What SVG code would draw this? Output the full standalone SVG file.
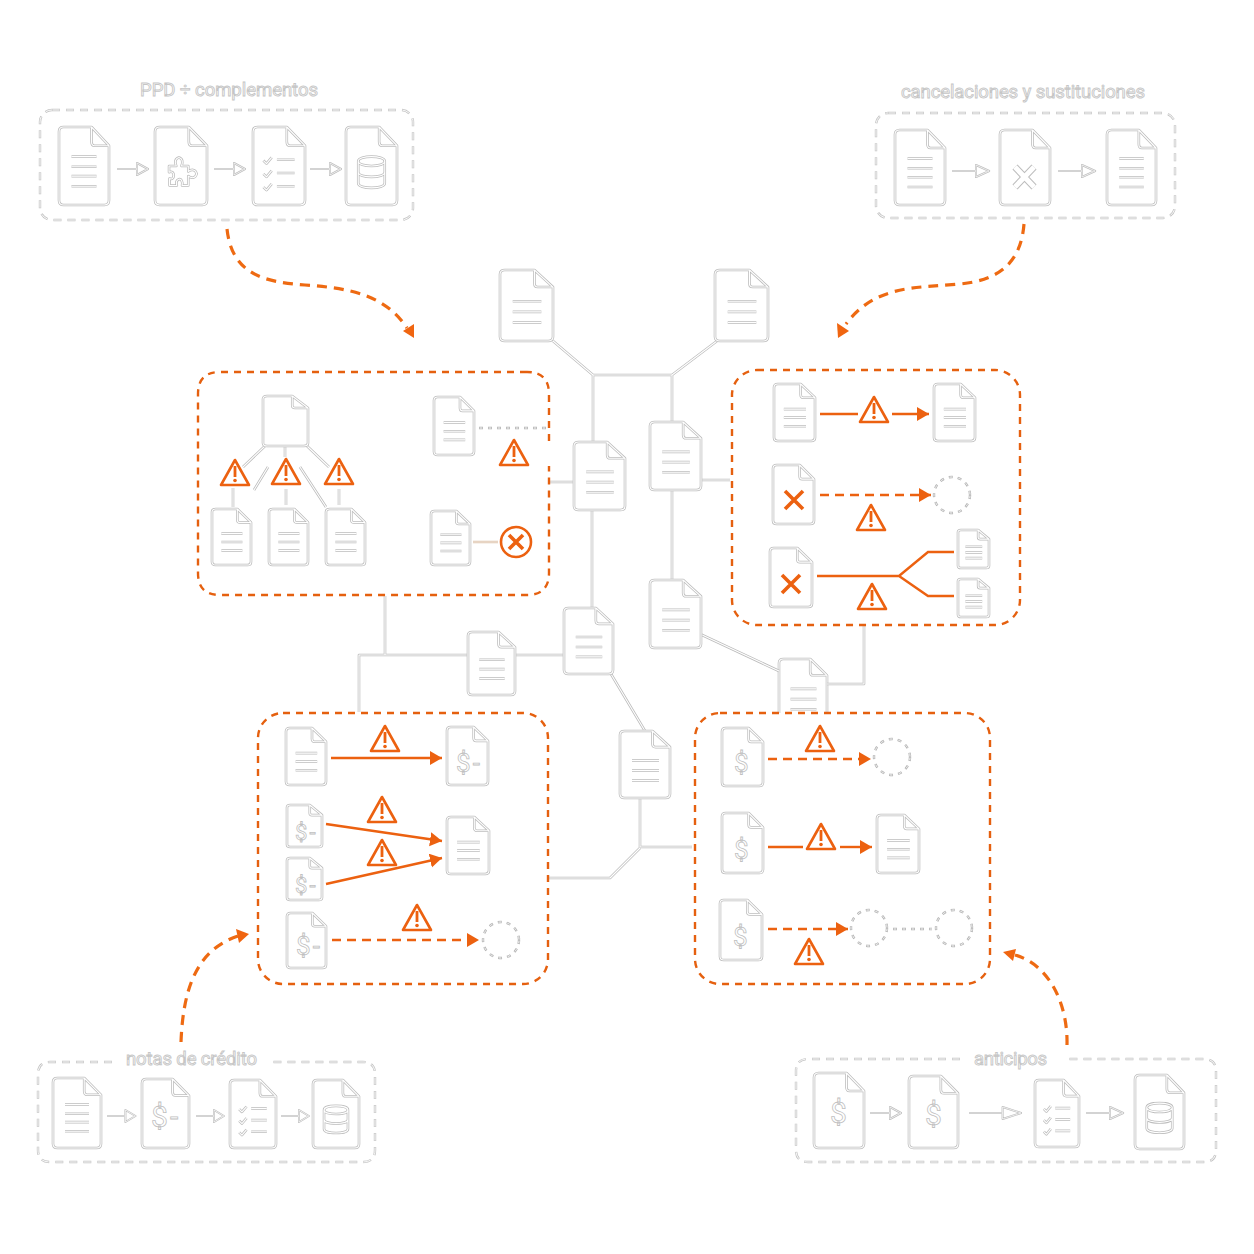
<svg xmlns="http://www.w3.org/2000/svg" width="1254" height="1254" viewBox="0 0 1254 1254">
<style>
path,line,circle,rect,polygon,ellipse{vector-effect:non-scaling-stroke}
text{font-family:"Roboto","Liberation Sans",sans-serif}
.o{fill:none;stroke:#bcbcbc;stroke-width:2.6;stroke-linejoin:round}
.i{fill:none;stroke:#fff;stroke-width:1.1;stroke-linejoin:round}
.f{fill:#fff;stroke:none}
.pg{fill:none;stroke:#c4c4c4;stroke-width:2.4;stroke-dasharray:8 6}
.pi{fill:none;stroke:#fff;stroke-width:.9;stroke-dasharray:7 7;stroke-dashoffset:-.5}
.co{fill:none;stroke:#b4b4b4;stroke-width:2.4;stroke-dasharray:4 5}
.ci{fill:none;stroke:#fff;stroke-width:.9;stroke-dasharray:2.6 6.4;stroke-dashoffset:-.7}
.panel{fill:none;stroke:#e5600f;stroke-width:2.4;stroke-dasharray:7 6}
.s{fill:none;stroke:#ec6110;stroke-width:2.4}
.d{fill:none;stroke:#ec6110;stroke-width:2.6;stroke-dasharray:9 6}
.curve{fill:none;stroke:#ee6a12;stroke-width:3.2;stroke-dasharray:10 7}
.tip{fill:#f06510}
.x{fill:none;stroke:#ec6110;stroke-width:3.6}
.title{font-size:18.5px;fill:#fff;stroke:#c6c6c6;stroke-width:.9}
.dl{font-size:30px;fill:#fff;stroke:#c0c0c0;stroke-width:.8}
</style>
<defs>
<path id="ds" d="M9 0H65L100 24V94Q100 100 91 100H9Q0 100 0 94V6Q0 0 9 0ZM65 0V19Q65 24 71 24H100"/>
<g id="doc"><use href="#ds" class="f"/><use href="#ds" class="o"/><use href="#ds" class="i"/></g>
<path id="l3s" d="M24 44H78M24 59H78M24 74H78"/>
<g id="l3"><use href="#l3s" class="o"/><use href="#l3s" class="i"/></g>
<path id="l4s" d="M25 38H75M25 51H75M25 63H75M25 76H75"/>
<g id="l4"><use href="#l4s" class="o"/><use href="#l4s" class="i"/></g>
<path id="cks" d="M20 43L26 47L36 39M46 42H80M20 60L26 64L36 56M46 59H80M20 77L26 81L36 73M46 76H80"/>
<g id="ck"><use href="#cks" class="o"/><use href="#cks" class="i"/></g>
<path id="dbs" d="M24 44C24 36 76 36 76 44C76 52 24 52 24 44ZM24 44V72C24 80 76 80 76 72V44M24 58C24 66 76 66 76 58"/>
<g id="db"><use href="#dbs" class="o"/><use href="#dbs" class="i"/></g>
<path id="pzs" d="M27 50H41C37 45 39 40 46 39C53 40 54 45 51 50H64V57C70 54 78 54 80 60C78 66 70 66 64 63V75H52C54 70 50 66 46 67C42 68 40 71 42 75H28V66C33 68 36 65 36 62C36 59 33 56 27 58Z"/>
<g id="pz"><use href="#pzs" class="o"/><use href="#pzs" class="i"/></g>
<path id="gas" d="M0 0H20M20-6L31 0L20 6Z"/>
<g id="ga"><use href="#gas" class="f"/><use href="#gas" class="o" style="stroke-width:2"/><use href="#gas" class="i" style="stroke-width:.7"/></g>
<g id="w"><path d="M0-13L14 12H-14Z" fill="#fff" stroke="#ec6110" stroke-width="2.6" stroke-linejoin="round"/><rect x="-1.4" y="-7" width="2.8" height="11" fill="#ec6110"/><circle cx="0" cy="7.5" r="1.8" fill="#ec6110"/></g>
<marker id="ah" markerUnits="userSpaceOnUse" markerWidth="14" markerHeight="15" refX="12" refY="7" orient="auto"><path d="M0 0L12 7L0 14Z" fill="#ec6110"/></marker>
<path id="conn" d="M553 341L593 375H672L717 341M593 375V442M672 375V422M672 490V580M701 480H730M549 482H574M592 510V608M564 655H515M468 655H359V712M385 596V655M611 674L645 731M640 798V847H692M640 848L610 878H549M700 634L779 671M827 684H864V626M268 467L254 490M300 467L326 507M265 446L243 467M285 447V457M307 446L329 467M233 488V507M286 489V505M339 489V505"/>
<rect id="pa1" x="40" y="110" width="373" height="110" rx="12"/>
<rect id="pa2" x="876" y="113" width="299" height="105" rx="12"/>
<path id="pa3" d="M112 1062H50Q38 1062 38 1074V1150Q38 1162 50 1162H363Q375 1162 375 1150V1074Q375 1062 363 1062H272"/>
<path id="pa4" d="M960 1059H808Q796 1059 796 1071V1150Q796 1162 808 1162H1204Q1216 1162 1216 1150V1071Q1216 1059 1204 1059H1067"/>
</defs>
<rect width="1254" height="1254" fill="#fff"/>

<g id="c-9" transform="translate(779 659) scale(.48 .68)"><use href="#doc"/><use href="#l3"/></g>
<rect id="panel-anticipos-ground" x="695" y="713" width="295" height="271" rx="25" fill="#fff"/>

<g id="connectors">
<use href="#conn" class="o"/><use href="#conn" class="i"/>
<path class="co" d="M479 428H547"/><path class="ci" d="M479 428H547"/>
<path class="co" d="M893 929H932"/><path class="ci" d="M893 929H932"/>
<path d="M473 542H498" fill="none" stroke="#d8b89c" stroke-width="2.4"/><path d="M473 542H498" fill="none" stroke="#fff" stroke-width=".8"/>
<path class="curve" d="M227 229C232 275 265 282 305 285C350 288 385 295 407 328"/>
<polygon class="tip" points="403,331 414,324 414,338"/>
<path class="curve" d="M1024 224C1021 262 1000 280 960 284C915 288 875 285 846 324"/>
<polygon class="tip" points="837,323 849,331 838,338"/>
<path class="curve" d="M181 1042C183 990 196 950 238 936"/>
<polygon class="tip" points="236,929 249,934 239,943"/>
<path class="curve" d="M1067 1045C1068 1005 1050 965 1015 955"/>
<polygon class="tip" points="1003,952 1016,949 1013,961"/>
<path class="s" d="M820 414H858"/><path class="s" marker-end="url(#ah)" d="M892 414H929"/>
<path class="d" marker-end="url(#ah)" d="M820 495H931"/>
<path class="s" d="M817 576H899L928 552H954M899 576L928 596H954"/>
<path class="s" marker-end="url(#ah)" d="M331 758H442"/>
<path class="s" marker-end="url(#ah)" d="M326 824L442 841"/>
<path class="s" marker-end="url(#ah)" d="M326 884L442 858"/>
<path class="d" marker-end="url(#ah)" d="M332 940H479"/>
<path class="d" marker-end="url(#ah)" d="M768 759H871"/>
<path class="s" d="M768 847H803"/><path class="s" marker-end="url(#ah)" d="M840 847H872"/>
<path class="d" marker-end="url(#ah)" d="M768 929H848"/>
<use href="#ga" transform="translate(117 169)"/><use href="#ga" transform="translate(214 169)"/><use href="#ga" transform="translate(310 169)"/>
<use href="#ga" transform="translate(952 171) scale(1.2 1)"/><use href="#ga" transform="translate(1058 171) scale(1.2 1)"/>
<use href="#ga" transform="translate(107 1116) scale(.92 1)"/><use href="#ga" transform="translate(196 1116) scale(.9 1)"/><use href="#ga" transform="translate(281 1116) scale(.9 1)"/>
<use href="#ga" transform="translate(870 1113)"/><use href="#ga" transform="translate(969 1113) scale(1.68 1)"/><use href="#ga" transform="translate(1086 1113) scale(1.2 1)"/>
</g>

<g id="process-ppd">
<use href="#pa1" class="pg"/><use href="#pa1" class="pi"/>
<text class="title" x="140" y="96" textLength="178">PPD ÷ complementos</text>
</g>
<g id="process-cancel">
<use href="#pa2" class="pg"/><use href="#pa2" class="pi"/>
<text class="title" x="901" y="98" textLength="244">cancelaciones y sustituciones</text>
</g>
<g id="process-notas">
<use href="#pa3" class="pg"/><use href="#pa3" class="pi"/>
<text class="title" x="126" y="1065" textLength="131">notas de crédito</text>
</g>
<g id="process-anticipos">
<use href="#pa4" class="pg"/><use href="#pa4" class="pi"/>
<text class="title" x="974" y="1065" textLength="73">anticipos</text>
</g>

<g id="ppd-1" transform="translate(59 127) scale(.5 .78)"><use href="#doc"/><use href="#l4"/></g>
<g id="ppd-2" transform="translate(155 127) scale(.52 .78)"><use href="#doc"/><use href="#pz"/></g>
<g id="ppd-3" transform="translate(253 127) scale(.52 .78)"><use href="#doc"/><use href="#ck"/></g>
<g id="ppd-4" transform="translate(346 127) scale(.51 .78)"><use href="#doc"/><use href="#db"/></g>

<g id="can-1" transform="translate(895 130) scale(.5 .75)"><use href="#doc"/><use href="#l4"/></g>
<g id="can-2"><use href="#doc" transform="translate(1000 130) scale(.5 .75)"/><path d="M1015 167L1034 187M1034 167L1015 187" fill="none" stroke="#bdbdbd" stroke-width="7"/><path d="M1015 167L1034 187M1034 167L1015 187" fill="none" stroke="#fff" stroke-width="5"/></g>
<g id="can-3" transform="translate(1107 130) scale(.49 .75)"><use href="#doc"/><use href="#l4"/></g>

<g id="nc-1" transform="translate(53 1078) scale(.48 .7)"><use href="#doc"/><use href="#l4"/></g>
<g id="nc-2"><use href="#doc" transform="translate(142 1079) scale(.47 .69)"/><text class="dl" x="151" y="1127">$<tspan dx="2">-</tspan></text></g>
<g id="nc-3" transform="translate(230 1080) scale(.46 .68)"><use href="#doc"/><use href="#ck"/></g>
<g id="nc-4" transform="translate(313 1080) scale(.46 .68)"><use href="#doc"/><use href="#db"/></g>

<g id="ant-1"><use href="#doc" transform="translate(814 1073) scale(.5 .75)"/><text class="dl" x="830" y="1123">$</text></g>
<g id="ant-2"><use href="#doc" transform="translate(909 1076) scale(.49 .72)"/><text class="dl" x="925" y="1125">$</text></g>
<g id="ant-3" transform="translate(1035 1080) scale(.44 .67)"><use href="#doc"/><use href="#ck"/></g>
<g id="ant-4" transform="translate(1135 1075) scale(.49 .74)"><use href="#doc"/><use href="#db"/></g>

<g id="c-1" transform="translate(500 270) scale(.53 .71)"><use href="#doc"/><use href="#l3"/></g>
<g id="c-2" transform="translate(715 270) scale(.53 .71)"><use href="#doc"/><use href="#l3"/></g>
<g id="c-3" transform="translate(574 442) scale(.51 .68)"><use href="#doc"/><use href="#l3"/></g>
<g id="c-4" transform="translate(650 422) scale(.51 .68)"><use href="#doc"/><use href="#l3"/></g>
<g id="c-5" transform="translate(650 580) scale(.51 .68)"><use href="#doc"/><use href="#l3"/></g>
<g id="c-6" transform="translate(564 608) scale(.49 .66)"><use href="#doc"/><use href="#l3"/></g>
<g id="c-7" transform="translate(468 632) scale(.47 .63)"><use href="#doc"/><use href="#l3"/></g>
<g id="c-8" transform="translate(620 731) scale(.5 .67)"><use href="#doc"/><use href="#l3"/></g>

<g id="panel-ppd">
<path class="panel" d="M527 372H220Q198 372 198 394V573Q198 595 220 595H527Q549 595 549 573V466M549 441V394Q549 372 527 372"/>
<use href="#doc" transform="translate(263 396) scale(.45 .5)"/>
<g id="ppd-a" transform="translate(212 509) scale(.39 .56)"><use href="#doc"/><use href="#l3"/></g>
<g id="ppd-b" transform="translate(269 509) scale(.39 .56)"><use href="#doc"/><use href="#l3"/></g>
<g id="ppd-c" transform="translate(326 509) scale(.39 .56)"><use href="#doc"/><use href="#l3"/></g>
<g id="ppd-d" transform="translate(434 397) scale(.4 .58)"><use href="#doc"/><use href="#l3"/></g>
<g id="ppd-e" transform="translate(431 511) scale(.39 .54)"><use href="#doc"/><use href="#l3"/></g>
<use href="#w" transform="translate(235 473)"/><use href="#w" transform="translate(286 472)"/><use href="#w" transform="translate(339 472)"/><use href="#w" transform="translate(514 453)"/>
<circle cx="516" cy="542" r="15" fill="none" stroke="#ec6110" stroke-width="2.6"/>
<path class="x" d="M509 535L523 549M523 535L509 549"/>
</g>

<g id="panel-cancel">
<rect class="panel" x="732" y="370" width="288" height="255" rx="25"/>
<g id="pc-1" transform="translate(774 384) scale(.41 .57)"><use href="#doc"/><use href="#l3"/></g>
<g id="pc-2" transform="translate(934 384) scale(.41 .57)"><use href="#doc"/><use href="#l3"/></g>
<g id="pc-3"><use href="#doc" transform="translate(773 465) scale(.41 .59)"/><path class="x" d="M785 491L803 509M803 491L785 509"/></g>
<g id="pc-4"><use href="#doc" transform="translate(770 548) scale(.42 .59)"/><path class="x" d="M782 575L800 593M800 575L782 593"/></g>
<g id="pc-5" transform="translate(958 530) scale(.31 .38)"><use href="#doc"/><use href="#l3"/></g>
<g id="pc-6" transform="translate(958 579) scale(.31 .38)"><use href="#doc"/><use href="#l3"/></g>
<circle class="co" cx="952" cy="495" r="18"/><circle class="ci" cx="952" cy="495" r="18"/>
<use href="#w" transform="translate(874 410)"/><use href="#w" transform="translate(871 518)"/><use href="#w" transform="translate(872 597)"/>
</g>

<g id="panel-notas">
<rect class="panel" x="258" y="713" width="290" height="271" rx="25"/>
<g id="pn-1" transform="translate(286 728) scale(.4 .57)"><use href="#doc"/><use href="#l3"/></g>
<g id="pn-2"><use href="#doc" transform="translate(447 727) scale(.41 .58)"/><text class="dl" x="456" y="772" style="font-size:26px">$<tspan dx="2">-</tspan></text></g>
<g id="pn-3"><use href="#doc" transform="translate(287 805) scale(.35 .42)"/><text class="dl" x="295" y="840" style="font-size:22px">$<tspan dx="2">-</tspan></text></g>
<g id="pn-4"><use href="#doc" transform="translate(287 858) scale(.35 .42)"/><text class="dl" x="295" y="893" style="font-size:22px">$<tspan dx="2">-</tspan></text></g>
<g id="pn-5" transform="translate(447 817) scale(.42 .57)"><use href="#doc"/><use href="#l3"/></g>
<g id="pn-6"><use href="#doc" transform="translate(287 913) scale(.39 .55)"/><text class="dl" x="296" y="955" style="font-size:26px">$<tspan dx="2">-</tspan></text></g>
<circle class="co" cx="501" cy="940" r="18"/><circle class="ci" cx="501" cy="940" r="18"/>
<use href="#w" transform="translate(385 739)"/><use href="#w" transform="translate(382 810)"/><use href="#w" transform="translate(382 853)"/><use href="#w" transform="translate(417 918)"/>
</g>

<g id="panel-anticipos">
<rect class="panel" x="695" y="713" width="295" height="271" rx="25"/>
<g id="pa-1"><use href="#doc" transform="translate(722 728) scale(.41 .58)"/><text class="dl" x="734" y="772" style="font-size:26px">$</text></g>
<g id="pa-2"><use href="#doc" transform="translate(722 813) scale(.41 .6)"/><text class="dl" x="734" y="859" style="font-size:26px">$</text></g>
<g id="pa-3"><use href="#doc" transform="translate(720 900) scale(.42 .6)"/><text class="dl" x="733" y="946" style="font-size:26px">$</text></g>
<g id="pa-4" transform="translate(877 815) scale(.42 .58)"><use href="#doc"/><use href="#l3"/></g>
<circle class="co" cx="892" cy="757" r="18"/><circle class="ci" cx="892" cy="757" r="18"/>
<circle class="co" cx="869" cy="928" r="18"/><circle class="ci" cx="869" cy="928" r="18"/>
<circle class="co" cx="954" cy="928" r="18"/><circle class="ci" cx="954" cy="928" r="18"/>
<use href="#w" transform="translate(820 739)"/><use href="#w" transform="translate(821 837)"/><use href="#w" transform="translate(809 952)"/>
</g>
</svg>
